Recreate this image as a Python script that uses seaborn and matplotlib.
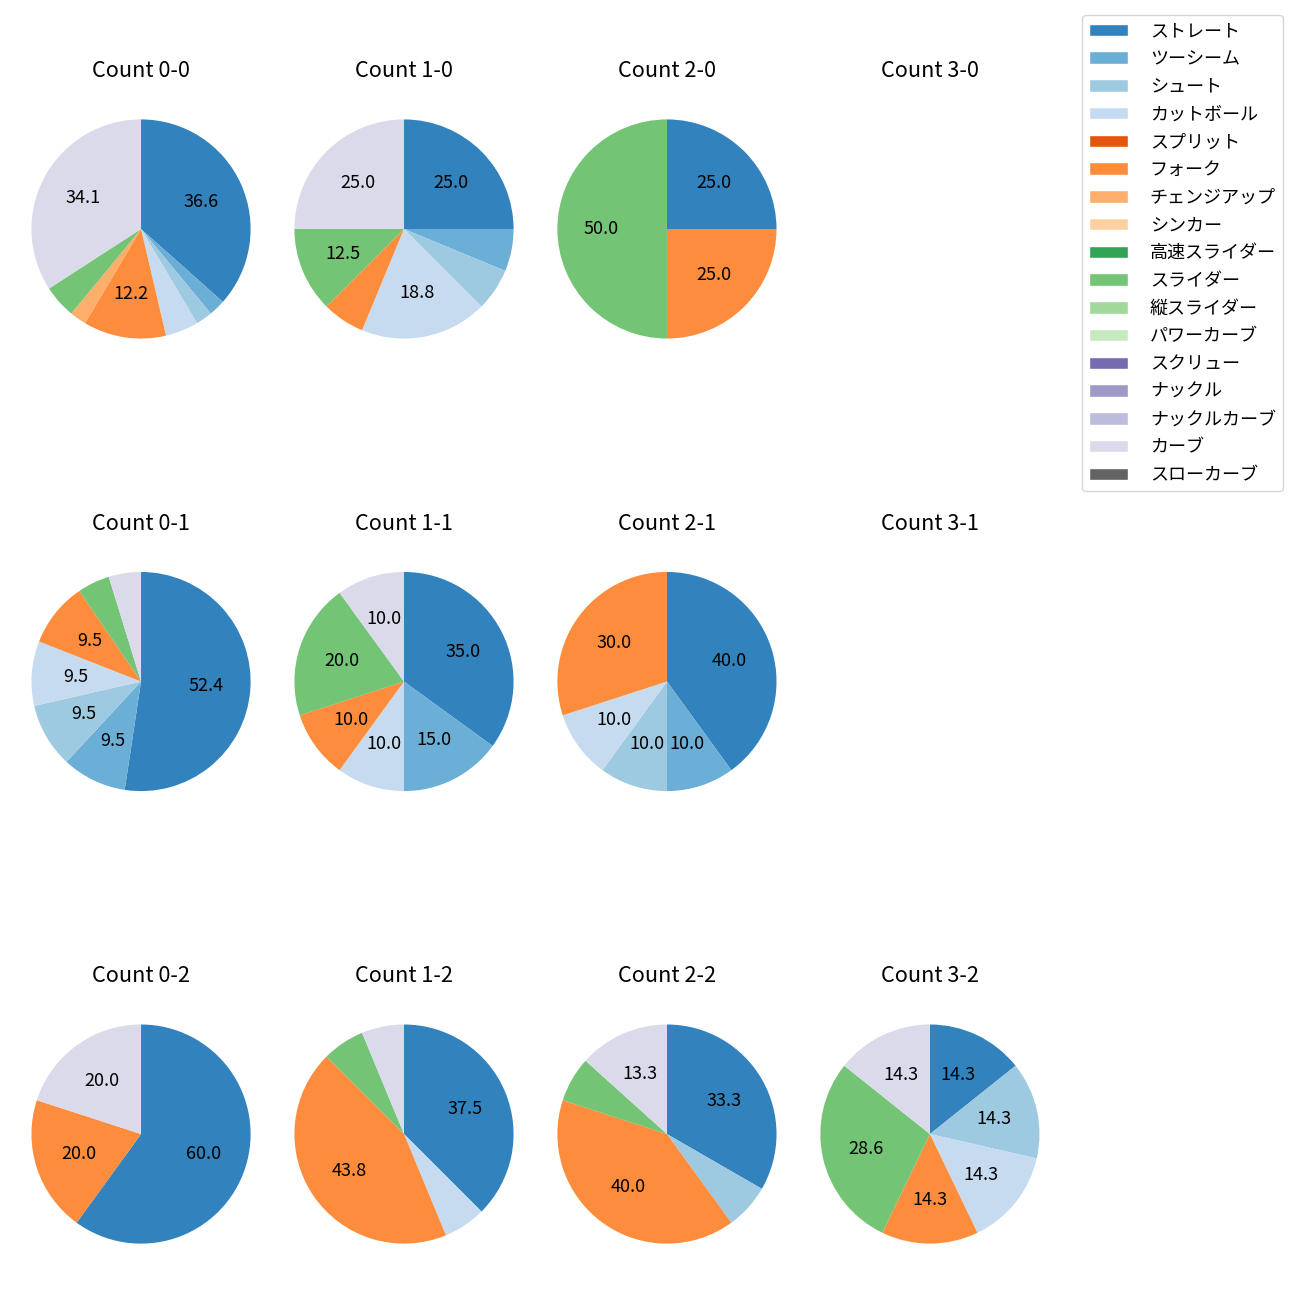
import matplotlib
matplotlib.use("Agg")
import matplotlib.pyplot as plt
from matplotlib.patches import Patch
import seaborn as sns

# pitch types in legend order
pitch_types = ["ストレート", "ツーシーム", "シュート", "カットボール", "スプリット", "フォーク",
               "チェンジアップ", "シンカー", "高速スライダー", "スライダー", "縦スライダー",
               "パワーカーブ", "スクリュー", "ナックル", "ナックルカーブ", "カーブ", "スローカーブ"]

# pitch counts per ball-strike count, same order as pitch_types
count_0_0 = [15, 1, 1, 2, 0, 5, 1, 0, 0, 2, 0, 0, 0, 0, 0, 14, 0]
count_1_0 = [4, 1, 1, 3, 0, 1, 0, 0, 0, 2, 0, 0, 0, 0, 0, 4, 0]
count_2_0 = [1, 0, 0, 0, 0, 1, 0, 0, 0, 2, 0, 0, 0, 0, 0, 0, 0]
count_3_0 = []
count_0_1 = [11, 2, 2, 2, 0, 2, 0, 0, 0, 1, 0, 0, 0, 0, 0, 1, 0]
count_1_1 = [7, 3, 0, 2, 0, 2, 0, 0, 0, 4, 0, 0, 0, 0, 0, 2, 0]
count_2_1 = [4, 1, 1, 1, 0, 3, 0, 0, 0, 0, 0, 0, 0, 0, 0, 0, 0]
count_3_1 = []
count_0_2 = [3, 0, 0, 0, 0, 1, 0, 0, 0, 0, 0, 0, 0, 0, 0, 1, 0]
count_1_2 = [6, 0, 0, 1, 0, 7, 0, 0, 0, 1, 0, 0, 0, 0, 0, 1, 0]
count_2_2 = [5, 0, 1, 0, 0, 6, 0, 0, 0, 1, 0, 0, 0, 0, 0, 2, 0]
count_3_2 = [1, 0, 1, 1, 0, 1, 0, 0, 0, 2, 0, 0, 0, 0, 0, 1, 0]

grid = [
    [("0-0", count_0_0), ("1-0", count_1_0), ("2-0", count_2_0), ("3-0", count_3_0)],
    [("0-1", count_0_1), ("1-1", count_1_1), ("2-1", count_2_1), ("3-1", count_3_1)],
    [("0-2", count_0_2), ("1-2", count_1_2), ("2-2", count_2_2), ("3-2", count_3_2)],
]

sns.set_style("white")
plt.rcParams["font.family"] = ["Noto Sans CJK JP", "DejaVu Sans"]
plt.rcParams["font.size"] = 13
plt.rcParams["text.color"] = "black"

colors = sns.color_palette("tab20c", len(pitch_types))

fig, axes = plt.subplots(3, 4, figsize=(13, 13), dpi=100)
fig.subplots_adjust(left=0.0242, right=0.7996, top=0.9323, bottom=0.0192,
                    wspace=0.2, hspace=0.605)

for r, row in enumerate(grid):
    for c, (label, values) in enumerate(row):
        ax = axes[r, c]
        ax.set_title(f"Count {label}", pad=7.8, color="black")
        if sum(values) == 0:
            ax.axis("off")
            continue
        vals = [v for v in values if v > 0]
        cols = [colors[i] for i, v in enumerate(values) if v > 0]
        ax.pie(vals, colors=cols, startangle=90, counterclock=False, radius=1.25,
               autopct=lambda p: f"{p:.1f}" if p >= 8 else "", pctdistance=0.6,
               wedgeprops={"linewidth": 0}, textprops={"fontsize": 13, "color": "black"})
        ax.set_aspect("equal", adjustable="datalim")

handles = [Patch(facecolor=colors[i], label=name) for i, name in enumerate(pitch_types)]
fig.legend(handles=handles, loc="upper right", bbox_to_anchor=(1283 / 1300, 1 - 15 / 1300),
           borderaxespad=0, fontsize=13, labelspacing=0.54, handlelength=2.15,
           handletextpad=1.2)

fig.savefig("out.png", dpi=100)
